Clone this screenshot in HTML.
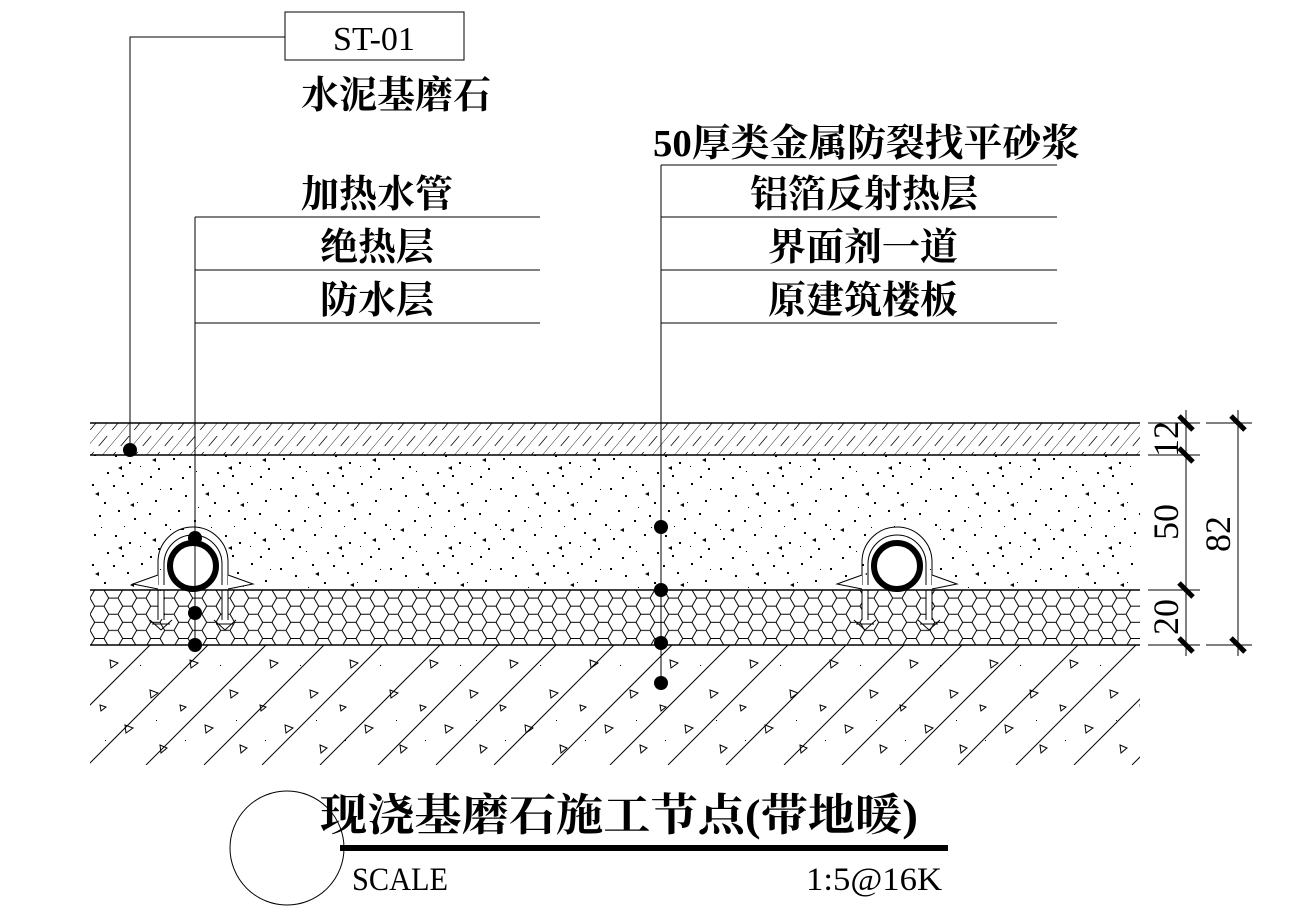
<!DOCTYPE html>
<html><head><meta charset="utf-8"><style>
html,body{margin:0;padding:0;background:#fff;}
svg{display:block}
text{font-family:"Liberation Serif","Noto Serif CJK SC",serif;fill:#000}
.cn{font-family:"Liberation Serif","Noto Serif CJK SC",serif;font-size:38px;font-weight:bold}
.mono{font-family:"Liberation Mono","Liberation Serif",monospace}
</style></head><body>
<svg width="1313" height="921" viewBox="0 0 1313 921" xmlns="http://www.w3.org/2000/svg">
<defs>
<pattern id="hatch" width="22" height="32" patternUnits="userSpaceOnUse" patternTransform="skewX(-40)">
<line x1="0" y1="0" x2="0" y2="32" stroke="#000" stroke-width="1"/>
<line x1="11" y1="4" x2="11" y2="14" stroke="#000" stroke-width="1"/>
<line x1="11" y1="20" x2="11" y2="30" stroke="#000" stroke-width="1"/>
</pattern>
<pattern id="dots" width="110" height="80" patternUnits="userSpaceOnUse">
<g fill="#000">
<rect x="3" y="5" width="2" height="2"/><rect x="17" y="12" width="2" height="2"/><rect x="31" y="3" width="2" height="2"/><rect x="45" y="20" width="2" height="2"/><rect x="60" y="8" width="2" height="2"/><rect x="75" y="15" width="2" height="2"/><rect x="92" y="4" width="2" height="2"/><rect x="104" y="22" width="2" height="2"/>
<rect x="8" y="30" width="2" height="2"/><rect x="24" y="38" width="2" height="2"/><rect x="39" y="33" width="2" height="2"/><rect x="55" y="44" width="2" height="2"/><rect x="68" y="30" width="2" height="2"/><rect x="84" y="40" width="2" height="2"/><rect x="99" y="35" width="2" height="2"/>
<rect x="5" y="55" width="2" height="2"/><rect x="19" y="62" width="2" height="2"/><rect x="34" y="52" width="2" height="2"/><rect x="48" y="68" width="2" height="2"/><rect x="63" y="58" width="2" height="2"/><rect x="79" y="66" width="2" height="2"/><rect x="94" y="54" width="2" height="2"/><rect x="107" y="72" width="2" height="2"/>
<rect x="12" y="75" width="2" height="2"/><rect x="40" y="76" width="2" height="2"/><rect x="72" y="77" width="2" height="2"/><rect x="27" y="22" width="1" height="1"/><rect x="50" y="9" width="1" height="1"/><rect x="88" y="27" width="1" height="1"/><rect x="14" y="46" width="1" height="1"/><rect x="60" y="49" width="1" height="1"/><rect x="101" y="47" width="1" height="1"/><rect x="30" y="66" width="1" height="1"/><rect x="86" y="71" width="1" height="1"/>
<path d="M20 25 l4 -2 v4z M70 50 l4 -2 v4z M95 14 l4 -2 v4z M42 60 l4 -2 v4z M8 68 l4 -2 v4z"/>
</g>
</pattern>
<pattern id="hex" width="28" height="16.16" patternUnits="userSpaceOnUse" x="90" y="590">
<path d="M0 8.08 L4.67 0 L14 0 L18.67 8.08 L14 16.16 L4.67 16.16 Z M18.67 8.08 L28 8.08" fill="none" stroke="#000" stroke-width="1"/>
</pattern>
<pattern id="slab" width="80" height="120" patternUnits="userSpaceOnUse" x="90" y="645">
<g fill="none" stroke="#000" stroke-width="1">
<path d="M20 15 l8 3 l-7 5z M60 45 l8 3 l-7 5z M35 80 l8 3 l-7 5z M70 100 l7 3 l-6 5z M10 60 l6 2 l-5 4z"/>
</g>
<g fill="#000"><rect x="50" y="20" width="1" height="1"/><rect x="15" y="95" width="1" height="1"/><rect x="66" y="75" width="1" height="1"/></g>
</pattern>
<clipPath id="sc"><rect x="90" y="645" width="1050" height="120"/></clipPath>
</defs>

<rect x="90" y="423" width="1050" height="32" fill="url(#hatch)"/>
<rect x="90" y="455" width="1050" height="135" fill="url(#dots)"/>
<rect x="90" y="590" width="1050" height="55" fill="url(#hex)"/>
<rect x="90" y="645" width="1050" height="120" fill="url(#slab)"/>
<g clip-path="url(#sc)" stroke="#000" stroke-width="1">
<path d="M30 765 L150 645 M88 765 L208 645 M146 765 L266 645 M204 765 L324 645 M262 765 L382 645 M320 765 L440 645 M378 765 L498 645 M436 765 L556 645 M494 765 L614 645 M552 765 L672 645 M610 765 L730 645 M668 765 L788 645 M726 765 L846 645 M784 765 L904 645 M842 765 L962 645 M900 765 L1020 645 M958 765 L1078 645 M1016 765 L1136 645 M1074 765 L1194 645 M1132 765 L1252 645"/>
</g>
<g stroke="#000" stroke-width="1.5">
<line x1="90" y1="423" x2="1140" y2="423"/>
<line x1="90" y1="455" x2="1140" y2="455"/>
<line x1="90" y1="590" x2="1140" y2="590"/>
<line x1="90" y1="645" x2="1140" y2="645"/>
</g>

<g id="pipe">
<rect x="163" y="530" width="62" height="59" fill="#fff"/>
<path d="M158 585 V562 A35 35 0 0 1 228 562 V585" fill="none" stroke="#000" stroke-width="1"/>
<path d="M164 585 V564 A29 29 0 0 1 222 564 V585" fill="none" stroke="#000" stroke-width="1"/>
<path d="M158 575 L133 584 L158 589 M228 575 L253 584 L228 589" fill="#fff" stroke="#000" stroke-width="1"/>
<rect x="158" y="591" width="6" height="28" fill="#fff"/><rect x="222" y="591" width="6" height="28" fill="#fff"/>
<path d="M158 590 V620 M164 590 V620 M222 590 V620 M228 590 V620" stroke="#000" stroke-width="1"/>
<path d="M150 620 L161 630 L172 620 M152 624 L170 624 M214 620 L225 630 L236 620 M216 624 L234 624" fill="none" stroke="#000" stroke-width="1"/>
<circle cx="193" cy="566" r="23" fill="none" stroke="#000" stroke-width="6"/>
</g>
<use href="#pipe" x="704" y="0"/>

<g stroke="#000" stroke-width="1">
<line x1="1148" y1="423" x2="1200" y2="423"/><line x1="1148" y1="455" x2="1200" y2="455"/>
<line x1="1148" y1="590" x2="1200" y2="590"/><line x1="1148" y1="645" x2="1200" y2="645"/>
<line x1="1206" y1="423" x2="1252" y2="423"/><line x1="1206" y1="645" x2="1252" y2="645"/>
<line x1="1186" y1="410" x2="1186" y2="656"/><line x1="1238" y1="410" x2="1238" y2="656"/>
</g>
<g stroke="#000" stroke-width="5">
<line x1="1179" y1="416" x2="1193" y2="430"/><line x1="1179" y1="448" x2="1193" y2="462"/>
<line x1="1179" y1="583" x2="1193" y2="597"/><line x1="1179" y1="638" x2="1193" y2="652"/>
<line x1="1231" y1="416" x2="1245" y2="430"/><line x1="1231" y1="638" x2="1245" y2="652"/>
</g>
<g font-size="36">
<text transform="translate(1178,439) rotate(-90)" text-anchor="middle">12</text>
<text transform="translate(1178,522) rotate(-90)" text-anchor="middle">50</text>
<text transform="translate(1178,617) rotate(-90)" text-anchor="middle">20</text>
<text transform="translate(1230,534) rotate(-90)" text-anchor="middle">82</text>
</g>

<g stroke="#000" stroke-width="1" fill="none">
<rect x="285" y="12" width="179" height="48"/>
<polyline points="285,37 130,37 130,450"/>
<line x1="195" y1="217" x2="195" y2="645"/>
<line x1="195" y1="217" x2="540" y2="217"/>
<line x1="195" y1="270" x2="540" y2="270"/>
<line x1="195" y1="323" x2="540" y2="323"/>
<line x1="661" y1="165" x2="661" y2="683"/>
<line x1="661" y1="165" x2="1057" y2="165"/>
<line x1="661" y1="217" x2="1057" y2="217"/>
<line x1="661" y1="270" x2="1057" y2="270"/>
<line x1="661" y1="323" x2="1057" y2="323"/>
</g>
<g fill="#000">
<circle cx="130" cy="450" r="7"/>
<circle cx="195" cy="538" r="7"/><circle cx="195" cy="613" r="7"/><circle cx="195" cy="645" r="7"/>
<circle cx="661" cy="527" r="7"/><circle cx="661" cy="590" r="7"/><circle cx="661" cy="643" r="7"/><circle cx="661" cy="683" r="7"/>
</g>
<text x="374" y="50" font-size="34" text-anchor="middle">ST-01</text>
<text x="301" y="108" class="cn">水泥基磨石</text>
<text x="301" y="207" class="cn">加热水管</text>
<text x="320" y="260" class="cn">绝热层</text>
<text x="320" y="313" class="cn">防水层</text>
<text x="653" y="156" class="cn" textLength="427" lengthAdjust="spacingAndGlyphs">50厚类金属防裂找平砂浆</text>
<text x="750" y="207" class="cn">铝箔反射热层</text>
<text x="768" y="260" class="cn">界面剂一道</text>
<text x="768" y="313" class="cn">原建筑楼板</text>

<circle cx="287" cy="848" r="57" fill="none" stroke="#000" stroke-width="1"/>
<line x1="340" y1="848" x2="948" y2="848" stroke="#000" stroke-width="6"/>
<text x="320" y="830" class="cn" style="font-size:44px" textLength="598" lengthAdjust="spacingAndGlyphs">现浇基磨石施工节点(带地暖)</text>
<text x="352" y="890" font-size="33" textLength="96" lengthAdjust="spacingAndGlyphs">SCALE</text>
<text x="806" y="890" font-size="33" textLength="136" lengthAdjust="spacingAndGlyphs">1:5@16K</text>
</svg>
</body></html>
